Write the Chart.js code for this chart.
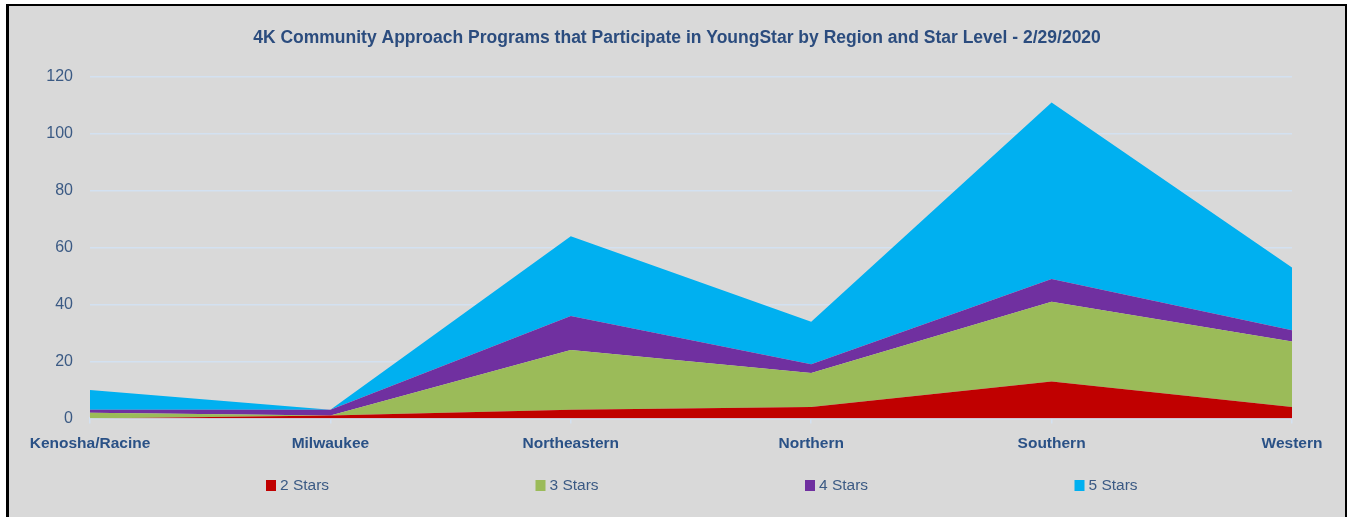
<!DOCTYPE html>
<html>
<head>
<meta charset="utf-8">
<script src="https://cdn.jsdelivr.net/npm/chart.js@4.4.1/dist/chart.umd.min.js"></script>
<style>
  html, body { margin: 0; padding: 0; background: #ffffff; width: 1347px; height: 517px; overflow: hidden; }
  #frame { position: absolute; left: 6px; top: 4px; width: 1336px; height: 520px;
           border-left: 3px solid #000; border-top: 2px solid #000; border-right: 2px solid #000;
           background: #D9D9D9; }
  #c { display: block; }
</style>
</head>
<body>
<div id="frame"><canvas id="c" width="1336" height="511"></canvas></div>
<script>
const categories = ["Kenosha/Racine", "Milwaukee", "Northeastern", "Northern", "Southern", "Western"];
const twoStars   = [0, 1, 3, 4, 13, 4];
const threeStars = [2, 0, 21, 12, 28, 23];
const fourStars  = [1, 2, 12, 3, 8, 4];
const fiveStars  = [7, 0, 28, 15, 62, 22];
const seriesNames = ["2 Stars", "3 Stars", "4 Stars", "5 Stars"];
const yTicks = [0, 20, 40, 60, 80, 100, 120];
const titleText = "4K Community Approach Programs that Participate in YoungStar by Region and Star Level - 2/29/2020";

const colors = ["#C00000", "#9BBB59", "#7030A0", "#00B0F0"];
const values = [twoStars, threeStars, fourStars, fiveStars];

const datasets = values.map((v, i) => ({
  label: seriesNames[i],
  data: v,
  backgroundColor: colors[i],
  borderColor: colors[i],
  borderWidth: 0,
  pointRadius: 0,
  tension: 0,
  fill: i === 0 ? 'origin' : '-1'
}));

const legendPlugin = {
  id: 'spreadLegend',
  afterDraw(chart) {
    const ctx = chart.ctx;
    ctx.save();
    ctx.font = '15.5px "Liberation Sans"';
    ctx.textBaseline = 'middle';
    ctx.textAlign = 'left';
    const y = 479;
    chart.data.datasets.forEach((ds, i) => {
      const x = 257 + i * 269.5;
      ctx.fillStyle = ds.backgroundColor;
      ctx.fillRect(x, y - 5, 10, 11);
      ctx.fillStyle = '#3B5A84';
      ctx.fillText(ds.label, x + 14, y + 1);
    });
    ctx.restore();
  }
};

new Chart(document.getElementById('c'), {
  type: 'line',
  data: { labels: categories, datasets },
  options: {
    responsive: false,
    animation: false,
    events: [],
    layout: { padding: { left: 0, right: 0, top: 0, bottom: 53 } },
    plugins: {
      legend: { display: false },
      tooltip: { enabled: false },
      title: {
        display: true,
        text: titleText,
        color: '#2B4C7E',
        font: { family: 'Liberation Sans', size: 17.5, weight: 'bold' },
        padding: { top: 21.5, bottom: 28.5 }
      }
    },
    scales: {
      x: {
        offset: false,
        grid: { drawOnChartArea: false, drawTicks: true, tickLength: 5, color: '#D3E1F1', lineWidth: 1.5 },
        border: { display: true, color: '#D3E1F1', width: 2 },
        ticks: { color: '#2A5186', font: { family: 'Liberation Sans', size: 15.5, weight: 'bold' }, padding: 11, maxRotation: 0, autoSkip: false }
      },
      y: {
        stacked: true,
        min: 0, max: 120,
        afterBuildTicks(scale) { scale.ticks = yTicks.map(v => ({ value: v })); },
        afterFit(scale) { scale.width = 81; },
        grid: { color: '#D3E1F1', lineWidth: 1.5, drawTicks: false },
        border: { display: false },
        ticks: { color: '#3B5A84', font: { family: 'Liberation Sans', size: 16 }, padding: 17 }
      },
      spacer: {
        position: 'right',
        min: 0, max: 1,
        grid: { display: false },
        border: { display: false },
        ticks: { display: false },
        afterFit(scale) { scale.width = 53; }
      }
    }
  },
  plugins: [legendPlugin]
});
</script>
</body>
</html>
